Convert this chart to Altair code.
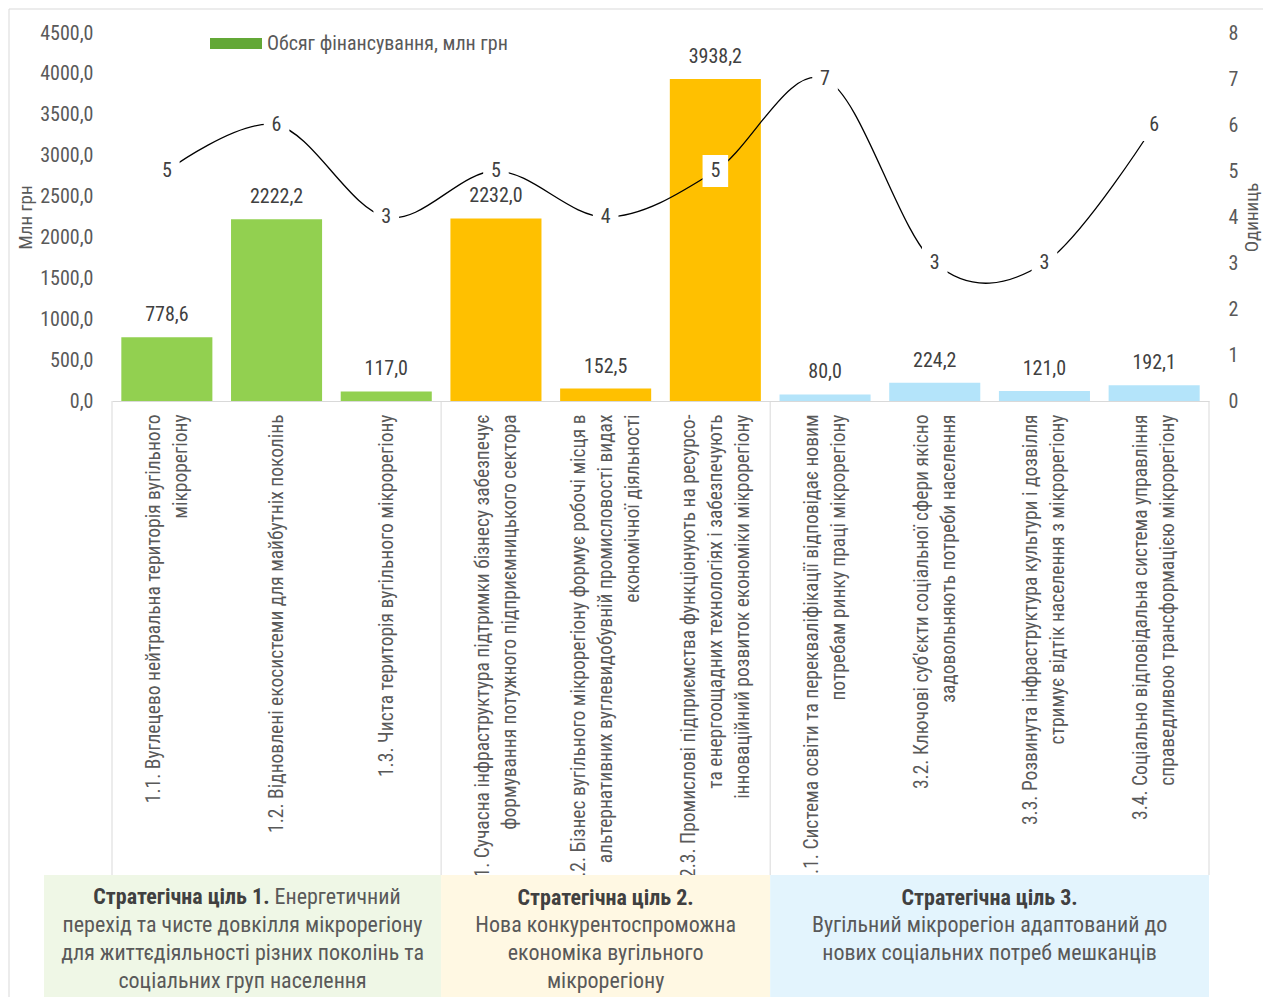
import json
import altair as alt
import pandas as pd

# ---------------- data ----------------
categories = [
    ["1.1. Вуглецево нейтральна територія вугільного", "мікрорегіону"],
    ["1.2. Відновлені екосистеми для майбутніх поколінь"],
    ["1.3. Чиста територія вугільного мікрорегіону"],
    ["2.1. Сучасна інфраструктура підтримки бізнесу забезпечує",
     "формування потужного підприємницького сектора"],
    ["2.2. Бізнес вугільного мікрорегіону формує робочі місця в",
     "альтернативних вуглевидобувній промисловості видах",
     "економічної діяльності"],
    ["2.3. Промислові підприємства функціонують на ресурсо-",
     "та енергоощадних технологіях і забезпечують",
     "інноваційний розвиток економіки мікрорегіону"],
    ["3.1. Система освіти та перекваліфікації відповідає новим",
     "потребам ринку праці мікрорегіону"],
    ["3.2. Ключові суб'єкти соціальної сфери якісно",
     "задовольняють потреби населення"],
    ["3.3. Розвинута інфраструктура культури і дозвілля",
     "стримує відтік населення з мікрорегіону"],
    ["3.4. Соціально відповідальна система управління",
     "справедливою трансформацією мікрорегіону"],
]
goal_of_category = ["1", "1", "1", "2", "2", "2", "3", "3", "3", "3"]
amounts = [778.6, 2222.2, 117.0, 2232.0, 152.5, 3938.2, 80.0, 224.2, 121.0, 192.1]
counts = [5, 6, 4, 5, 4, 5, 7, 3, 3, 6]
count_labels = ["5", "6", "3", "5", "4", "5", "7", "3", "3", "6"]

goals = ["1", "2", "3"]
goal_heads = ["Стратегічна ціль 1.", "Стратегічна ціль 2.", "Стратегічна ціль 3."]
goal1_inline = "Енергетичний"
goal_bodies = [
    ["перехід та чисте довкілля мікрорегіону",
     "для життєдіяльності різних поколінь та",
     "соціальних груп населення"],
    ["Нова конкурентоспроможна", "економіка вугільного", "мікрорегіону"],
    ["Вугільний мікрорегіон адаптований до", "нових соціальних потреб мешканців"],
]
legend_label = "Обсяг фінансування, млн грн"
left_title = "Млн грн"
right_title = "Одиниць"

# ---------------- style ----------------
FONT = "Liberation Sans Narrow, Arial Narrow, Roboto Condensed, Liberation Sans, sans-serif"
GRAY = "#595959"
DARK = "#404040"
LINE = "#D9D9D9"
bar_colors = ["#92D050", "#FFC000", "#B4E4FA"]
box_colors = ["#EFF7E6", "#FFF8E3", "#E3F4FD"]
legend_color = "#63A836"

W, H = 1097, 368
GAP = 0.085
LH = 27  # category label line height

n = len(amounts)
df = pd.DataFrame({
    "i": list(range(n)),
    "amount": amounts,
    "count": counts,
    "count_label": count_labels,
    "goal": goal_of_category,
})

# group boundaries from the category/goal assignment
bounds = [0]
for k in range(1, n):
    if goal_of_category[k] != goal_of_category[k - 1]:
        bounds.append(k)
bounds.append(n)
sep_df = pd.DataFrame({"b": bounds})
box_df = pd.DataFrame({
    "goal": goals,
    "b0": [bounds[0] - 0.62] + bounds[1:-1],
    "b1": bounds[1:],
})
box_df["c"] = (box_df["b0"] + box_df["b1"]) / 2
box_df["head"] = goal_heads
box_df["body"] = goal_bodies

xs = alt.Scale(domain=[0, n], nice=False, zero=False)
ys_left = alt.Scale(domain=[0, 4500], nice=False, zero=True)
ys_right = alt.Scale(domain=[0, 8], nice=False, zero=True)


def centred(lines):
    # keep the lines of one label centred on each other while the block hangs from the axis
    longest = max(len(s) for s in lines)
    return [s + "\u00a0" * round((longest - len(s)) * 0.95) for s in lines]


def build(use_offsets):
    label_lines = [centred(c) for c in categories] if use_offsets else categories
    label_expr = f"{json.dumps(label_lines, ensure_ascii=False)}[round(datum.value - 0.5)]"
    extra = {}
    if use_offsets:
        cond = []
        for m in sorted(set(len(c) for c in categories)):
            if m > 1:
                idx = [k for k, c in enumerate(categories) if len(c) == m]
                cond.append({
                    "test": f"indexof({json.dumps(idx)}, round(datum.value - 0.5)) >= 0",
                    "value": -(m - 1) * LH / 2,
                })
        extra["labelOffset"] = {"condition": cond, "value": 0}

    x_axis = alt.Axis(
        orient="bottom",
        values=[k + 0.5 for k in range(n)], labelExpr=label_expr, labelAngle=270,
        labelAlign="right", labelBaseline="middle", labelPadding=13, labelLimit=2000,
        labelOverlap=False, labelFlush=False, labelFont=FONT, labelFontSize=19.5,
        labelLineHeight=LH, labelColor=GRAY, ticks=False, grid=False,
        domainColor=LINE, domainWidth=1, title=None, zindex=0, **extra,
    )
    left_axis = alt.Axis(
        orient="left", values=list(range(0, 4501, 500)),
        labelExpr="replace(format(datum.value, '.1f'), '.', ',')",
        domain=False, ticks=False, grid=False, labelPadding=19,
        labelFont=FONT, labelFontSize=20, labelColor=GRAY,
        title=left_title, titleFont=FONT, titleFontSize=19, titleFontWeight="normal",
        titleColor=GRAY, titlePadding=4, zindex=0,
    )
    right_axis = alt.Axis(
        orient="right", values=list(range(0, 9)), format="d",
        domain=False, ticks=False, grid=False, labelPadding=19,
        labelFont=FONT, labelFontSize=20, labelColor=GRAY,
        title=right_title, titleFont=FONT, titleFontSize=19, titleFontWeight="normal",
        titleColor=GRAY, titlePadding=5, titleAngle=270, titleBaseline="top", zindex=0,
    )

    X = dict(scale=xs, axis=x_axis)

    base = alt.Chart(df).transform_calculate(
        x0=f"datum.i + {GAP}", x1=f"datum.i + {1 - GAP}", xc="datum.i + 0.5",
        amt_lbl="replace(format(datum.amount, '.1f'), '.', ',')",
    )
    one = alt.Data(values=[{}])

    border = alt.Chart(one).mark_rect(fillOpacity=0, stroke=LINE, strokeWidth=1).encode(
        x=alt.value(-103), x2=alt.value(W + 400), y=alt.value(-24), y2=alt.value(H + 800)
    )
    bars = base.mark_rect().encode(
        x=alt.X("x0:Q", **X),
        x2="x1:Q",
        y=alt.Y("amount:Q", scale=ys_left, axis=left_axis),
        y2=alt.datum(0),
        color=alt.Color("goal:N", scale=alt.Scale(domain=goals, range=bar_colors), legend=None),
    )
    bar_text = base.mark_text(dy=-22, baseline="middle", font=FONT, fontSize=20, color=DARK).encode(
        x=alt.X("xc:Q", **X),
        y=alt.Y("amount:Q", scale=ys_left, axis=None),
        text="amt_lbl:N",
    )
    line = base.mark_line(interpolate="cardinal", color="black", strokeWidth=1.3).encode(
        x=alt.X("xc:Q", **X),
        y=alt.Y("count:Q", scale=ys_right, axis=right_axis),
    )
    label_bg = base.mark_point(
        shape="M-0.8,-1H0.8V1H-0.8Z", size=1024, filled=True, color="white", opacity=1, strokeWidth=0
    ).encode(
        x=alt.X("xc:Q", **X),
        y=alt.Y("count:Q", scale=ys_right, axis=None),
    )
    label_txt = base.mark_text(baseline="middle", font=FONT, fontSize=20, color=DARK).encode(
        x=alt.X("xc:Q", **X),
        y=alt.Y("count:Q", scale=ys_right, axis=None),
        text="count_label:N",
    )

    seps = alt.Chart(sep_df).mark_rule(color=LINE, strokeWidth=1).encode(
        x=alt.X("b:Q", **X), y=alt.value(H), y2=alt.value(842)
    )
    boxes = alt.Chart(box_df).mark_rect().encode(
        x=alt.X("b0:Q", **X), x2="b1:Q",
        y=alt.value(842), y2=alt.value(H + 800),
        color=alt.Color("goal:N", scale=alt.Scale(domain=goals, range=box_colors), legend=None),
    )
    heads_center = alt.Chart(box_df).transform_filter("datum.goal != '1'").mark_text(
        align="center", baseline="line-top", lineHeight=28, font=FONT, fontSize=22,
        fontWeight="bold", color=DARK,
    ).encode(x=alt.X("c:Q", **X), y=alt.value(852), text="head:N")
    head1 = alt.Chart(box_df).transform_filter("datum.goal == '1'").mark_text(
        align="right", baseline="line-top", lineHeight=28, font=FONT, fontSize=22,
        fontWeight="bold", color=DARK, dx=27,
    ).encode(x=alt.X("c:Q", **X), y=alt.value(851), text="head:N")
    inline1 = alt.Chart(box_df).transform_filter("datum.goal == '1'").transform_calculate(
        t=json.dumps(goal1_inline, ensure_ascii=False)
    ).mark_text(
        align="left", baseline="line-top", lineHeight=28, font=FONT, fontSize=22,
        color=GRAY, dx=32,
    ).encode(x=alt.X("c:Q", **X), y=alt.value(851), text="t:N")
    bodies = alt.Chart(box_df).mark_text(
        align="center", baseline="line-top", lineHeight=28, font=FONT, fontSize=22, color=GRAY,
    ).encode(x=alt.X("c:Q", **X), y=alt.value(879), text="body")

    legend_sw = alt.Chart(one).mark_rect(color=legend_color).encode(
        x=alt.value(98), x2=alt.value(150), y=alt.value(5), y2=alt.value(16)
    )
    legend_tx = alt.Chart(one).mark_text(
        align="left", baseline="middle", font=FONT, fontSize=20, color=GRAY, text=legend_label
    ).encode(x=alt.value(155), y=alt.value(11))

    return alt.layer(
        border, bars, bar_text, line, label_bg, label_txt,
        seps, boxes, heads_center, head1, inline1, bodies, legend_sw, legend_tx,
    ).resolve_scale(y="independent", color="independent").properties(
        width=W, height=H,
        autosize=alt.AutoSizeParams(type="none"),
        padding={"left": 104, "top": 25, "right": 54, "bottom": 596},
        background="white",
    ).configure_view(stroke=None)


try:
    chart = build(True)
    chart.to_dict()
except Exception:
    chart = build(False)

chart.save("out.html", embed_options={"renderer": "svg", "actions": False})
